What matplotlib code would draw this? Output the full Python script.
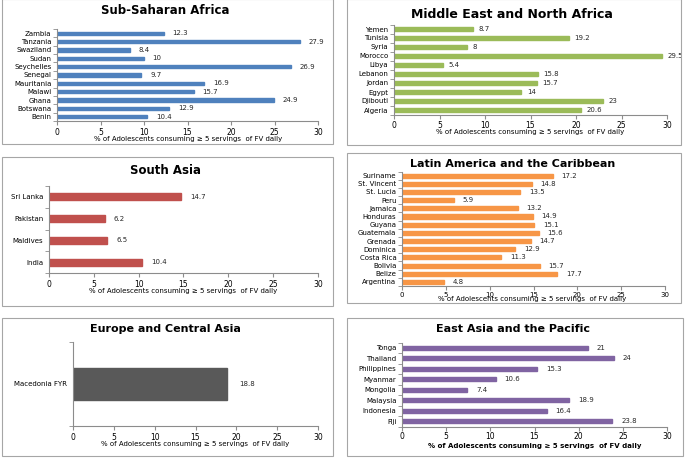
import numpy as np
import matplotlib.pyplot as plt
from matplotlib.patches import Rectangle

# data (bottom to top, as drawn)
ssa_countries = ['Benin', 'Botswana', 'Ghana', 'Malawi', 'Mauritania', 'Senegal',
                 'Seychelles', 'Sudan', 'Swaziland', 'Tanzania', 'Zambia']
ssa_values = [10.4, 12.9, 24.9, 15.7, 16.9, 9.7, 26.9, 10, 8.4, 27.9, 12.3]

mena_countries = ['Algeria', 'Djibouti', 'Egypt', 'Jordan', 'Lebanon', 'Libya',
                  'Morocco', 'Syria', 'Tunisia', 'Yemen']
mena_values = [20.6, 23, 14, 15.7, 15.8, 5.4, 29.5, 8, 19.2, 8.7]

sa_countries = ['India', 'Maldives', 'Pakistan', 'Sri Lanka']
sa_values = [10.4, 6.5, 6.2, 14.7]

lac_countries = ['Argentina', 'Belize', 'Bolivia', 'Costa Rica', 'Dominica', 'Grenada',
                 'Guatemala', 'Guyana', 'Honduras', 'Jamaica', 'Peru', 'St. Lucia',
                 'St. Vincent', 'Suriname']
lac_values = [4.8, 17.7, 15.7, 11.3, 12.9, 14.7, 15.6, 15.1, 14.9, 13.2, 5.9, 13.5, 14.8, 17.2]

eca_countries = ['Macedonia FYR']
eca_values = [18.8]

eap_countries = ['Fiji', 'Indonesia', 'Malaysia', 'Mongolia', 'Myanmar', 'Philippines',
                 'Thailand', 'Tonga']
eap_values = [23.8, 16.4, 18.9, 7.4, 10.6, 15.3, 24, 21]

xlabel = '% of Adolescents consuming \u2265 5 servings  of FV daily'

W, H = 685, 458
fig = plt.figure(figsize=(W / 100, H / 100), dpi=100)
fig.patch.set_facecolor('white')


def fx(x):
    return x / W


def fy(y):
    return 1 - y / H


def panel(box, ax_px, title, title_xy, title_size, lab_xy, countries, values,
          color, bar_h, lab_bold=False, val_off=1.0):
    # grey frame around each panel
    bx0, by0, bx1, by1 = box
    fig.patches.append(Rectangle((fx(bx0), fy(by1)), fx(bx1 - bx0), (by1 - by0) / H,
                                 transform=fig.transFigure, fill=False,
                                 edgecolor='#a6a6a6', linewidth=0.8))
    x0, x1, ytop, ybot = ax_px
    ax = fig.add_axes([fx(x0), fy(ybot), fx(x1 - x0), (ybot - ytop) / H])
    pos = np.arange(len(countries))
    ax.barh(pos, values, height=bar_h, color=color, edgecolor=color)
    for p, v in zip(pos, values):
        ax.text(v + val_off, p, f'{v:g}', va='center', ha='left', fontsize=5,
                color='#262626')
    ax.set_xlim(0, 30)
    ax.set_ylim(-0.5, len(countries) - 0.5)
    ax.set_xticks(range(0, 31, 5))
    ax.set_yticks(pos)
    ax.set_yticklabels(countries)
    ax.set_yticks(np.arange(-0.5, len(countries), 1), minor=True)
    ax.tick_params(axis='y', which='major', length=0, labelsize=5, pad=4)
    ax.tick_params(axis='y', which='minor', length=3, color='#8c8c8c')
    ax.tick_params(axis='x', length=3, color='#8c8c8c', labelsize=5.5, pad=2)
    for s in ['top', 'right']:
        ax.spines[s].set_visible(False)
    for s in ['left', 'bottom']:
        ax.spines[s].set_color('#8c8c8c')
        ax.spines[s].set_linewidth(0.8)
    fig.text(fx(title_xy[0]), fy(title_xy[1]), title, ha='center', va='center',
             fontsize=title_size, fontweight='bold')
    fig.text(fx(lab_xy[0]), fy(lab_xy[1]), xlabel, ha='center', va='center',
             fontsize=5, fontweight='bold' if lab_bold else 'normal')
    return ax


panel((2, -1, 333, 144), (57, 318, 29, 121), 'Sub-Saharan Africa', (165, 10), 8.5,
      (188, 139), ssa_countries, ssa_values, '#4f81bd', 0.4)
panel((347, -1, 681, 145), (394, 667, 24.5, 114.5), 'Middle East and North Africa',
      (512, 14), 9, (530, 132), mena_countries, mena_values, '#9bbb59', 0.35,
      val_off=0.6)
panel((2, 157, 333, 306), (49, 318, 186, 273), 'South Asia', (165, 171), 8.5,
      (183, 291), sa_countries, sa_values, '#c0504d', 0.33)
lac_ax = panel((347, 153, 681, 303), (402, 665, 171.5, 286), 'Latin America and the Caribbean',
               (513, 164), 8, (532, 299.5), lac_countries, lac_values, '#f79646', 0.5)
lac_ax.tick_params(axis='x', labelsize=5, pad=1)
panel((2, 318, 333, 456), (73, 318, 342, 426), 'Europe and Central Asia', (165, 329), 8,
      (195, 444), eca_countries, eca_values, '#595959', 0.375, val_off=1.5)
eap_ax = panel((347, 318, 683, 456), (402, 667, 342.5, 426.5), 'East Asia and the Pacific',
               (513, 329), 8, (535, 446), eap_countries, eap_values, '#8064a2', 0.4,
               lab_bold=True)
eap_ax.tick_params(axis='x', pad=1)

fig.savefig('out.png', dpi=100, facecolor='white')
